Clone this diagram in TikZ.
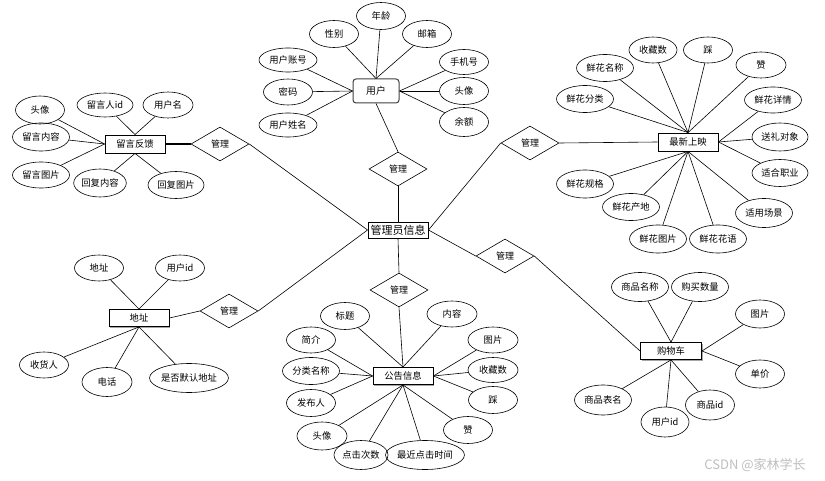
\documentclass[tikz,border=0pt]{standalone}
\usepackage{fontspec}
\setmainfont{Noto Sans CJK SC}
\usetikzlibrary{shapes.geometric,shadows}
\begin{document}
\begin{tikzpicture}[x=1pt,y=-1pt,
  attr/.style={draw, ellipse, line width=0.6pt, inner sep=0pt, minimum width=49pt, minimum height=27pt, font=\fontsize{9.3}{10}\selectfont},
  ent/.style={draw, rectangle, line width=0.9pt, fill=white, minimum width=60pt, minimum height=17pt, inner sep=0pt, drop shadow={shadow xshift=1pt, shadow yshift=-1pt, fill=black!35, opacity=1}, font=\fontsize{9.3}{10}\selectfont},
  userbox/.style={draw=black!75, rectangle, rounded corners=3pt, line width=1pt, fill=white, minimum width=46pt, minimum height=24pt, inner sep=0pt, font=\fontsize{9.8}{10}\selectfont},
  rel/.style={draw, diamond, aspect=1.7, line width=0.6pt, minimum width=58pt, minimum height=34pt, inner sep=0pt, font=\fontsize{9}{10}\selectfont},
  conn/.style={line width=0.6pt},
  thickconn/.style={line width=1.4pt}
]
\useasboundingbox (0,0) rectangle (825,481);
\fill[white] (0,0) rectangle (825,481);

% admin
\node[ent, minimum height=16pt, font=\fontsize{11}{12}\selectfont] (ad) at (398,230) {管理员信息};

% user
\node[userbox] (u) at (376,91) {用户};
\node[attr] (u1) at (381,16) {年龄};
\node[attr] (u2) at (334,34) {性别};
\node[attr] (u3) at (427,34) {邮箱};
\node[attr, minimum width=58pt, minimum height=24pt] (u4) at (288,60) {用户账号};
\node[attr, minimum height=26pt] (u5) at (288,92) {密码};
\node[attr, minimum width=58pt, minimum height=24pt] (u6) at (288,125) {用户姓名};
\node[attr, minimum height=25pt] (u7) at (464,62) {手机号};
\node[attr] (u8) at (464,91) {头像};
\node[attr, minimum height=29pt] (u9) at (464,122) {余额};
\foreach \n in {u1,u2,u3} \draw[conn] (\n) -- (u.north);
\foreach \n in {u4,u5,u6} \draw[conn] (\n) -- (u.west);
\foreach \n in {u7,u8,u9} \draw[conn] (\n) -- (u.east);
\node[rel] (r1) at (398,169) {管理};
\draw[conn] (u.south) -- (r1.north);
\draw[conn] (r1.south) -- (ad.north);

% message feedback
\node[ent, minimum height=18pt] (e1) at (135,144) {留言反馈};
\node[attr, minimum height=28pt] (m1) at (40,110) {头像};
\node[attr, minimum width=56pt, minimum height=24pt] (m2) at (105,105) {留言人id};
\node[attr, minimum width=50pt, minimum height=26pt] (m3) at (168,105) {用户名};
\node[attr, minimum width=57pt, minimum height=28pt] (m4) at (41,137) {留言内容};
\node[attr, minimum width=57pt, minimum height=26pt] (m5) at (41,175) {留言图片};
\node[attr, minimum width=52pt, minimum height=28pt] (m6) at (100,183) {回复内容};
\node[attr, minimum width=56pt, minimum height=27pt] (m7) at (176,185) {回复图片};
\foreach \n in {m2,m3} \draw[conn] (\n) -- (e1.north);
\foreach \n in {m1,m4,m5} \draw[conn] (\n) -- (e1.west);
\foreach \n in {m6,m7} \draw[conn] (\n) -- (e1.south);
\node[rel] (r2) at (220,144) {管理};
\draw[thickconn] (e1.east) -- (r2.west);
\draw[conn] (r2.east) -- (ad.west);

% newest
\node[ent, minimum height=18pt] (e2) at (688,142) {最新上映};
\node[attr, minimum width=48pt, minimum height=26pt] (n1) at (653,50) {收藏数};
\node[attr, minimum height=26pt] (n2) at (708,50) {踩};
\node[attr, minimum width=57pt] (n3) at (605,68) {鲜花名称};
\node[attr, minimum width=50pt, minimum height=26pt] (n4) at (761,65) {赞};
\node[attr, minimum width=57pt] (n5) at (585,99) {鲜花分类};
\node[attr, minimum width=57pt, minimum height=26pt] (n6) at (773,100) {鲜花详情};
\node[attr, minimum width=56pt, minimum height=28pt] (n7) at (780,137) {送礼对象};
\node[attr, minimum width=56pt] (n8) at (780,173) {适合职业};
\node[attr, minimum width=57pt, minimum height=29pt] (n9) at (764,213) {适用场景};
\node[attr, minimum width=57pt, minimum height=28pt] (n10) at (718,239) {鲜花花语};
\node[attr, minimum width=57pt, minimum height=28pt] (n11) at (658,239) {鲜花图片};
\node[attr, minimum width=57pt] (n12) at (631,207) {鲜花产地};
\node[attr, minimum width=57pt, minimum height=28pt] (n13) at (585,184) {鲜花规格};
\foreach \n in {n1,n2,n3,n4,n5} \draw[conn] (\n) -- (e2.north);
\foreach \n in {n6,n7,n8} \draw[conn] (\n) -- (e2.east);
\foreach \n in {n9,n10,n11,n12,n13} \draw[conn] (\n) -- (e2.south);
\node[rel] (r3) at (530,143) {管理};
\draw[conn] (ad.east) -- (r3.west);
\draw[conn] (r3.east) -- (e2.west);

% address
\node[ent] (e3) at (139,318) {地址};
\node[attr, minimum height=26pt] (d1) at (99,268) {地址};
\node[attr, minimum height=26pt] (d2) at (180,268) {用户id};
\node[attr, minimum height=26pt] (d3) at (44,365) {收货人};
\node[attr, minimum width=50pt, minimum height=29pt] (d4) at (107,382) {电话};
\node[attr, minimum width=68pt, minimum height=29pt] (d5) at (189,378) {是否默认地址};
\foreach \n in {d1,d2} \draw[conn] (\n) -- (e3.north);
\foreach \n in {d3,d4,d5} \draw[conn] (\n) -- (e3.south);
\node[rel] (r4) at (229,311) {管理};
\draw[conn] (e3.east) -- (r4.west);
\draw[conn] (r4.east) -- (ad.west);

% notice
\node[ent] (e4) at (403,376) {公告信息};
\node[attr] (g1) at (345,316) {标题};
\node[attr, minimum width=50pt, minimum height=26pt] (g2) at (452,314) {内容};
\node[attr, minimum height=26pt] (g3) at (311,340) {简介};
\node[attr, minimum width=50pt, minimum height=26pt] (g4) at (493,340) {图片};
\node[attr, minimum width=57pt] (g5) at (311,371) {分类名称};
\node[attr, minimum width=50pt, minimum height=25pt] (g6) at (493,370) {收藏数};
\node[attr] (g7) at (311,403) {发布人};
\node[attr] (g8) at (493,400) {踩};
\node[attr, minimum width=50pt, minimum height=28pt] (g9) at (322,436) {头像};
\node[attr] (g10) at (468,430) {赞};
\node[attr, minimum width=54pt, minimum height=29pt] (g11) at (361,455) {点击次数};
\node[attr, minimum width=76pt, minimum height=29pt] (g12) at (425,455) {最近点击时间};
\foreach \n in {g1,g2} \draw[conn] (\n) -- (e4.north);
\foreach \n in {g3,g5,g7} \draw[conn] (\n) -- (e4.west);
\foreach \n in {g4,g6,g8} \draw[conn] (\n) -- (e4.east);
\foreach \n in {g9,g10,g11,g12} \draw[conn] (\n) -- (e4.south);
\node[rel] (r5) at (399,290) {管理};
\draw[conn] (ad.south) -- (r5.north);
\draw[conn] (r5.south) -- (e4.north);

% cart
\node[ent, minimum width=61pt] (e5) at (671,351) {购物车};
\node[attr, minimum width=57pt, minimum height=29pt] (c1) at (640,287) {商品名称};
\node[attr, minimum width=57pt, minimum height=29pt] (c2) at (700,287) {购买数量};
\node[attr, minimum height=28pt] (c3) at (760,314) {图片};
\node[attr, minimum height=28pt] (c4) at (760,374) {单价};
\node[attr, minimum width=57pt, minimum height=30pt] (c5) at (603,400) {商品表名};
\node[attr, minimum width=48pt, minimum height=30pt] (c6) at (665,422) {用户id};
\node[attr, minimum width=49pt, minimum height=30pt] (c7) at (710,405) {商品id};
\foreach \n in {c1,c2} \draw[conn] (\n) -- (e5.north);
\foreach \n in {c3,c4} \draw[conn] (\n) -- (e5.east);
\foreach \n in {c5,c6,c7} \draw[conn] (\n) -- (e5.south);
\node[rel] (r6) at (505,256) {管理};
\draw[conn] (ad.east) -- (r6.west);
\draw[conn] (r6.east) -- (e5.west);

% watermark
\node[text=black!25, font=\fontsize{13}{15}\selectfont, inner sep=0pt] (wm) at (755,465) {CSDN @家林学长};
\end{tikzpicture}
\end{document}
